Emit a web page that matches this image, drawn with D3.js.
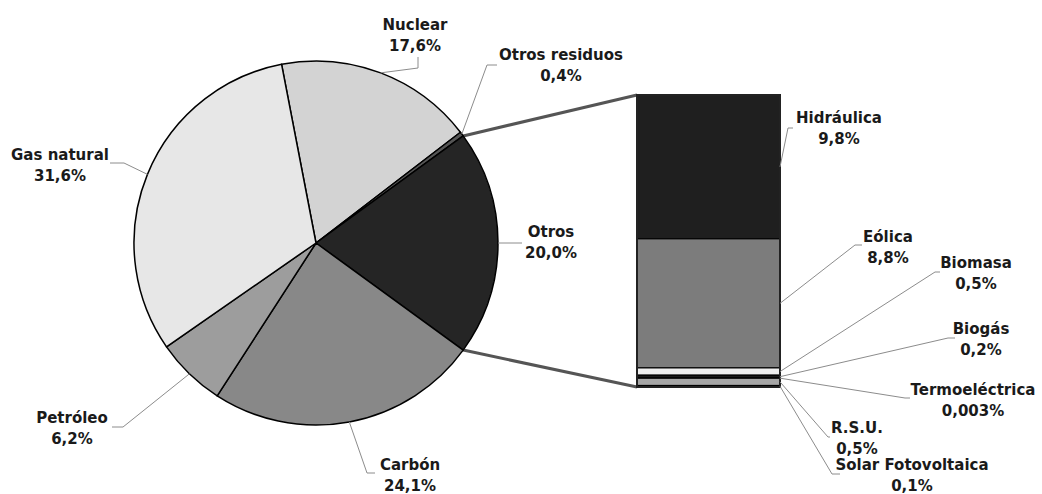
<!DOCTYPE html>
<html>
<head>
<meta charset="utf-8">
<script src="https://cdn.jsdelivr.net/npm/d3@7"></script>
<style>
  body { margin: 0; background: #fff; }
  svg { display: block; }
</style>
</head>
<body>
<div id="grafico"></div>
<script>
const WIDTH = 1042;
const HEIGHT = 494;

// datos del pastel (orden horario empezando por Nuclear)
const fuentes = ["Nuclear", "Otros residuos", "Otros", "Carbón", "Petróleo", "Gas natural"];
const porcentajes = [17.6, 0.4, 20.0, 24.1, 6.2, 31.6];
const coloresPastel = ["#d3d3d3", "#555555", "#252525", "#888888", "#9d9d9d", "#e7e7e7"];

// desglose de "Otros" en la barra (de arriba a abajo)
const otros = ["Hidráulica", "Eólica", "Biomasa", "Biogás", "Termoeléctrica", "R.S.U.", "Solar Fotovoltaica"];
const otrosPorc = [9.8, 8.8, 0.5, 0.2, 0.003, 0.5, 0.1];
const coloresBarra = ["#1f1f1f", "#7c7c7c", "#efefef", "#1a1a1a", "#444444", "#a6a6a6", "#8a8a8a"];

// posicion de etiquetas: texto (x, baseline), codo y final de la linea guia
const etiqPastel = [
    {x: 415, y: 30, codo: [418, 68], fin: [418, 57]},
    {x: 561, y: 60, codo: [487, 65], fin: [497, 65]},
    {x: 551, y: 237, codo: [522, 243], fin: [522, 243]},
    {x: 410, y: 470, codo: [367, 473], fin: [375, 473]},
    {x: 72, y: 423, codo: [123, 427], fin: [112, 427]},
    {x: 60, y: 160, codo: [124, 163], fin: [110, 163]}
];
const etiqBarra = [
    {x: 839, y: 123, codo: [788, 128], fin: [793, 128]},
    {x: 888, y: 242, codo: [855, 245], fin: [862, 245]},
    {x: 976, y: 268, codo: [935, 272], fin: [940, 272]},
    {x: 981, y: 334, codo: [948, 338], fin: [955, 338]},
    {x: 973, y: 395, codo: [905, 398], fin: [910, 398]},
    {x: 857, y: 433, codo: [828, 437], fin: [830, 437]},
    {x: 912, y: 470, codo: [832, 474], fin: [840, 474]}
];

const cx = 316, cy = 243, radio = 182;
const barraX = 637, barraW = 143, barraTop = 95, barraBottom = 387;

let svg = d3.select("#grafico")
    .append("svg")
    .attr("width", WIDTH)
    .attr("height", HEIGHT);

function formato(v) {
    let s = v < 0.01 ? v.toFixed(3) : v.toFixed(1);
    return s.replace(".", ",") + "%";
}

// angulo de inicio para que "Otros" quede centrado a las 3 en punto
let total = d3.sum(porcentajes);
let idxOtros = fuentes.indexOf("Otros");
let antes = d3.sum(porcentajes.slice(0, idxOtros));
let inicio = Math.PI / 2 - (antes + porcentajes[idxOtros] / 2) / total * 2 * Math.PI;

let pie = d3.pie().sort(null).value(d => d).startAngle(inicio).endAngle(inicio + 2 * Math.PI);
let arcos = pie(porcentajes);
let arc = d3.arc().innerRadius(0).outerRadius(radio);

function puntoArco(ang, r) {
    return [cx + r * Math.sin(ang), cy - r * Math.cos(ang)];
}

// lineas de union pastel -> barra
let arcOtros = arcos[idxOtros];
let pA = puntoArco(arcOtros.startAngle, radio);
let pB = puntoArco(arcOtros.endAngle, radio);
svg.append("line")
    .attr("x1", pA[0]).attr("y1", pA[1])
    .attr("x2", barraX).attr("y2", barraTop)
    .style("stroke", "#555").style("stroke-width", 3);
svg.append("line")
    .attr("x1", pB[0]).attr("y1", pB[1])
    .attr("x2", barraX).attr("y2", barraBottom)
    .style("stroke", "#555").style("stroke-width", 3);

let g = svg.append("g").attr("transform", "translate(" + cx + "," + cy + ")");
g.selectAll(".slice")
    .data(arcos)
    .enter()
    .append("path")
    .attr("class", "slice")
    .attr("d", arc)
    .style("fill", (d, i) => coloresPastel[i])
    .style("stroke", "#000")
    .style("stroke-width", 1.5)
    .style("stroke-linejoin", "round");

// barra apilada
let y = d3.scaleLinear()
    .domain([0, d3.sum(otrosPorc)])
    .range([barraTop, barraBottom]);
let acumulado = [];
let suma = 0;
otrosPorc.forEach(v => { acumulado.push([suma, suma + v]); suma += v; });

svg.selectAll(".seg")
    .data(acumulado)
    .enter()
    .append("rect")
    .attr("class", "seg")
    .attr("x", barraX)
    .attr("y", d => y(d[0]))
    .attr("width", barraW)
    .attr("height", d => y(d[1]) - y(d[0]))
    .style("fill", (d, i) => coloresBarra[i])
    .style("stroke", "#000")
    .style("stroke-width", 1.2);

svg.append("rect")
    .attr("x", barraX).attr("y", barraTop)
    .attr("width", barraW).attr("height", barraBottom - barraTop)
    .style("fill", "none")
    .style("stroke", "#222")
    .style("stroke-width", 2);

// lineas guia
let linea = d3.line();
let guias = svg.append("g");
arcos.forEach((a, i) => {
    let mid = (a.startAngle + a.endAngle) / 2;
    let p = puntoArco(mid, radio);
    let e = etiqPastel[i];
    guias.append("path")
        .attr("d", linea([p, e.codo, e.fin]))
        .style("fill", "none").style("stroke", "#8c8c8c").style("stroke-width", 1);
});
acumulado.forEach((d, i) => {
    let p = [barraX + barraW, (y(d[0]) + y(d[1])) / 2];
    let e = etiqBarra[i];
    guias.append("path")
        .attr("d", linea([p, e.codo, e.fin]))
        .style("fill", "none").style("stroke", "#8c8c8c").style("stroke-width", 1);
});

// textos
function etiqueta(pos, nombre, valor) {
    let t = svg.append("text")
        .attr("x", pos.x)
        .attr("y", pos.y)
        .attr("text-anchor", "middle")
        .style("font-family", "DejaVu Sans")
        .style("font-weight", "bold")
        .style("font-size", "15px")
        .style("fill", "#1a1a1a");
    t.append("tspan").attr("x", pos.x).text(nombre);
    t.append("tspan").attr("x", pos.x).attr("dy", 20.5).text(formato(valor));
}
fuentes.forEach((f, i) => etiqueta(etiqPastel[i], f, porcentajes[i]));
otros.forEach((f, i) => etiqueta(etiqBarra[i], f, otrosPorc[i]));
</script>
</body>
</html>
